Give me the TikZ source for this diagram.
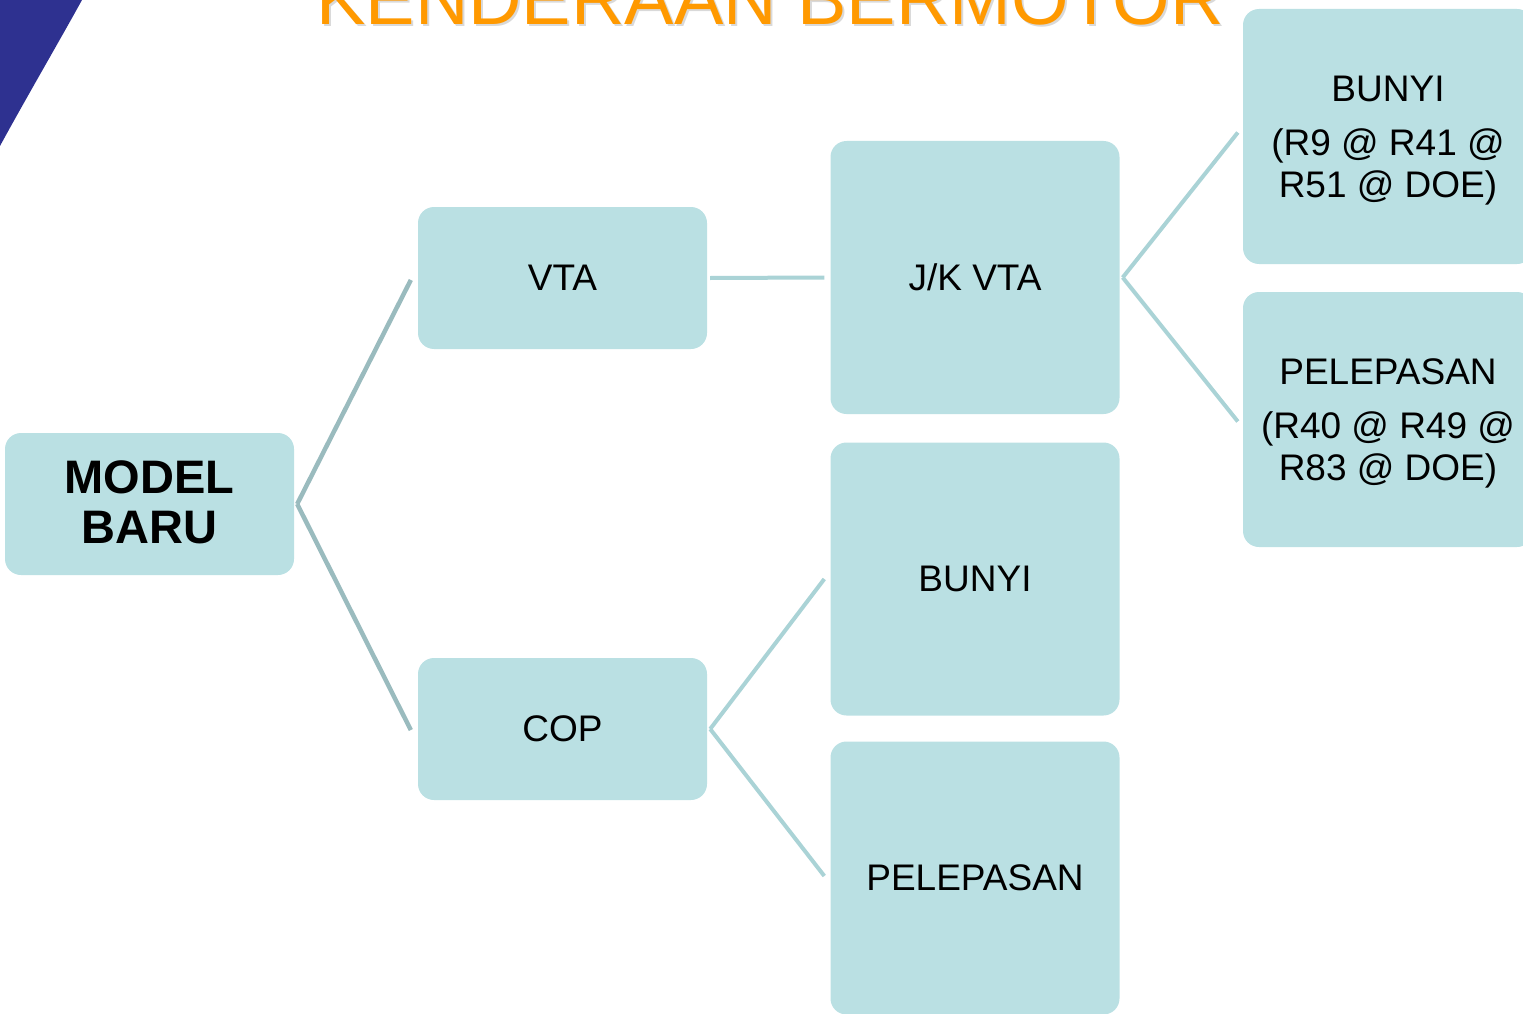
\documentclass[tikz,border=0pt]{standalone}
\usepackage{fontspec}
\setmainfont{Liberation Sans}
\definecolor{boxfill}{HTML}{BAE0E3}
\definecolor{linkdark}{HTML}{9ABBBE}
\definecolor{linklight}{HTML}{AAD3D6}
\definecolor{titleorange}{HTML}{FF9900}
\definecolor{cornerblue}{HTML}{2E3190}
\tikzset{
  card/.style={rectangle, rounded corners=16pt, fill=boxfill, draw=none,
    align=center, inner sep=0pt, font=\fontsize{37}{42}\selectfont},
  wide/.style={minimum width=289pt, minimum height=142pt},
  tall/.style={minimum width=289pt, minimum height=273pt},
  side/.style={minimum width=290pt, minimum height=255pt},
  cardtext/.style={align=center, inner sep=0pt, font=\fontsize{37}{42}\selectfont},
  conn/.style={draw=linklight, line width=4pt},
  conndark/.style={draw=linkdark, line width=4.5pt},
}
\begin{document}
\begin{tikzpicture}[x=1pt,y=-1pt]
\useasboundingbox (0,0) rectangle (1523,1014);
\clip (0,0) rectangle (1523,1014);

% corner swoosh
\fill[cornerblue] (0,0) -- (82,0) .. controls (60,40) and (25,100) .. (0,146) -- cycle;

% title, partly above the page
\node[anchor=base, text=gray!30, font=\fontsize{74}{74}\selectfont] (titleshadow) at (772,27) {KENDERAAN BERMOTOR};
\node[anchor=base, text=titleorange, font=\fontsize{74}{74}\selectfont] (title) at (770,25) {KENDERAAN BERMOTOR};

% boxes
\node[card, wide] (mb) at (149.5,504) {};
\node[cardtext, font=\fontsize{47}{50}\selectfont\bfseries] (mbtext) at ([yshift=2pt]mb.center) {MODEL\\BARU};
\node[card, wide] (vta) at (562.5,278) {VTA};
\node[card, wide] (cop) at (562.5,729) {COP};
\node[card, tall] (jk) at (975,277.5) {J/K VTA};
\node[card, tall] (bunyi) at (975,579) {BUNYI};
\node[card, tall] (lepas) at (975,878) {PELEPASAN};
\node[card, side] (bunyiR) at (1388,136.5) {};
\node[cardtext] (bunyiRtext) at ([yshift=-4pt]bunyiR.center) {BUNYI\\[12pt](R9 @ R41 @\\R51 @ DOE)};
\node[card, side] (lepasR) at (1388,419.5) {};
\node[cardtext] (lepasRtext) at ([yshift=-4pt]lepasR.center) {PELEPASAN\\[12pt](R40 @ R49 @\\R83 @ DOE)};

% connectors
\draw[conndark] ([xshift=3pt]mb.east) -- ([xshift=-7pt,yshift=-2pt]vta.west);
\draw[conndark] ([xshift=3pt]mb.east) -- ([xshift=-7pt,yshift=-1pt]cop.west);
\draw[conn] ([xshift=3pt]vta.east) -- ([xshift=-6pt]jk.west);
\draw[conn] ([xshift=3pt]cop.east) -- ([xshift=-6pt]bunyi.west);
\draw[conn] ([xshift=3pt]cop.east) -- ([xshift=-6pt,yshift=2pt]lepas.west);
\draw[conn] ([xshift=3pt]jk.east) -- ([xshift=-5pt,yshift=4pt]bunyiR.west);
\draw[conn] ([xshift=3pt]jk.east) -- ([xshift=-5pt,yshift=-2pt]lepasR.west);
\end{tikzpicture}
\end{document}
